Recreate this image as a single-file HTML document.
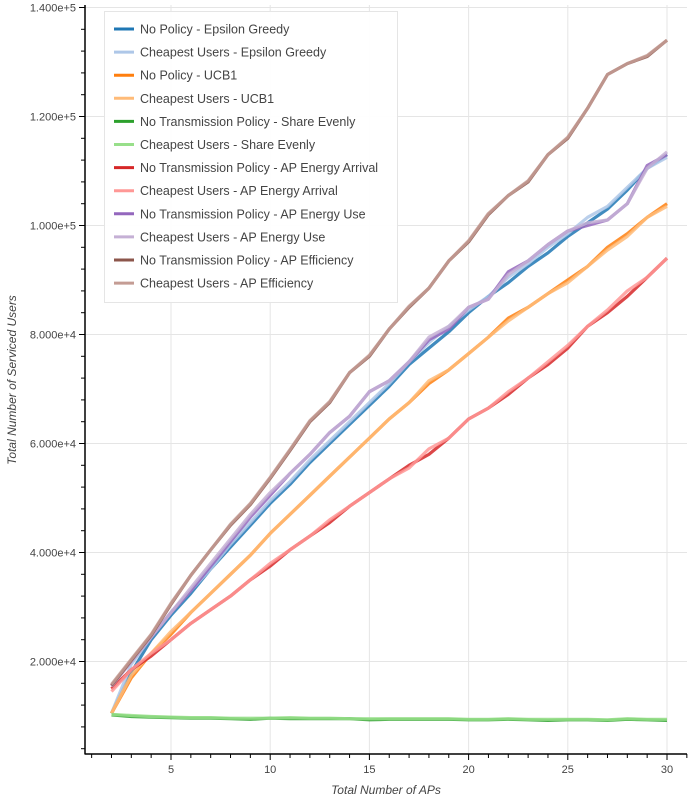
<!DOCTYPE html>
<html><head><meta charset="utf-8"><style>
html,body{margin:0;padding:0;background:#fff;}
svg{display:block;font-family:"Liberation Sans",sans-serif;}
</style></head><body>
<svg id="chart" width="700" height="800">
<g id="grid"></g>
<g id="series"></g>
<g id="axes"></g>
<g id="legend"></g>
<text x="386" y="794" text-anchor="middle" font-size="12" font-style="italic" fill="#444">Total Number of APs</text>
<text transform="translate(16,380) rotate(-90)" text-anchor="middle" font-size="12" font-style="italic" fill="#444">Total Number of Serviced Users</text>
</svg>
<script>
const xs=[2,3,4,5,6,7,8,9,10,11,12,13,14,15,16,17,18,19,20,21,22,23,24,25,26,27,28,29,30];
const epsNo=[10.5,18,24,28.5,32.5,37,41,45,49,52.5,56.5,60,63.5,67,70.5,74.5,77.5,80.5,84,87,89.5,92.5,95,98,100.5,103,106.5,110.5,113];
const epsCheap=[10.5,19.5,24.5,29,33,37,41.5,45.5,49.5,53,57,60.5,64,67.5,71,75,78.5,81.5,84.5,87,90.5,93,96,98.5,101.5,103.5,107,110.5,112.5];
const ucbNo=[10.5,17,21.5,25,29,32.5,36,39.5,43.5,47,50.5,54,57.5,61,64.5,67.5,71,73.5,76.5,79.5,83,85,87.5,90,92.5,96,98.5,101.5,104];
const ucbCheap=[10.5,17.5,21.5,25.5,29,32.5,36,39.5,43.5,47,50.5,54,57.5,61,64.5,67.5,71.5,73.5,76.5,79.5,82.5,85,87.5,89.5,92.5,95.5,98,101.5,103.5];
const shareNo=[10.2,9.9,9.8,9.7,9.6,9.6,9.5,9.4,9.6,9.5,9.5,9.5,9.5,9.3,9.4,9.4,9.4,9.4,9.3,9.3,9.4,9.3,9.2,9.3,9.3,9.2,9.4,9.3,9.2];
const shareCheap=[10.3,10.1,9.9,9.8,9.7,9.7,9.6,9.6,9.6,9.7,9.6,9.6,9.5,9.5,9.5,9.5,9.5,9.5,9.4,9.4,9.5,9.4,9.4,9.4,9.4,9.3,9.5,9.4,9.4];
const arrNo=[15,18.5,21,24,27,29.5,32,35,37.5,40.5,43,45.5,48.5,51,53.5,56,58,61,64.5,66.5,69,72,74.5,77.5,81.5,84,87,90.5,94];
const arrCheap=[14.5,18.5,21.5,24,27,29.5,32,35,38,40.5,43,46,48.5,51,53.5,55.5,59,61,64.5,66.5,69.5,72,75,78,81.5,84.5,88,90.5,94];
const useNo=[15.5,20,24.5,29,33,37.5,42,46.5,50.5,54.5,58,62,65,69.5,71.5,75,79,81,85,86.5,91.5,93.5,96.5,99,100,101,104,111,113];
const useCheap=[15.5,20,24.5,29,33.5,38,42.5,47,51,54.5,58,62,65,69.5,71.5,75,79.5,81.5,85,86.5,91,93.5,96.5,99,100.5,101,104,110.5,113.5];
const effNo=[15.6,20.2,24.8,30.5,35.8,40.5,45,48.8,53.6,58.7,64,67.5,73,76,81,85,88.5,93.5,97,102,105.5,108,113,116,121.5,127.7,129.7,131,134];
const effCheap=[15.8,20.4,25,30.7,35.8,40.5,45.2,49,53.8,58.9,64.2,67.7,73,76.2,81,85.2,88.5,93.5,97.2,102.2,105.5,108.2,113,116.2,121.5,127.7,129.7,131.2,134];
const names=["No Policy - Epsilon Greedy","Cheapest Users - Epsilon Greedy","No Policy - UCB1","Cheapest Users - UCB1","No Transmission Policy - Share Evenly","Cheapest Users - Share Evenly","No Transmission Policy - AP Energy Arrival","Cheapest Users - AP Energy Arrival","No Transmission Policy - AP Energy Use","Cheapest Users - AP Energy Use","No Transmission Policy - AP Efficiency","Cheapest Users - AP Efficiency"];
const colors=["#1f77b4","#aec7e8","#ff7f0e","#ffbb78","#2ca02c","#98df8a","#d62728","#ff9896","#9467bd","#c5b0d5","#8c564b","#c49c94"];
const data=[epsNo,epsCheap,ucbNo,ucbCheap,shareNo,shareCheap,arrNo,arrCheap,useNo,useCheap,effNo,effCheap];
const xTicks=[5,10,15,20,25,30];
const yTicks=[20000,40000,60000,80000,100000,120000,140000];
const yTickLabels=["2.000e+4","4.000e+4","6.000e+4","8.000e+4","1.000e+5","1.200e+5","1.400e+5"];

const NS="http://www.w3.org/2000/svg";
const X0=85,X1=687,Y0=754,Y1=5;
function sx(v){return 71.8+v*19.84;}
function sy(v){return 770.5-v*0.00545;} // v in users
function mk(tag,attrs,parent){const e=document.createElementNS(NS,tag);for(const k in attrs)e.setAttribute(k,attrs[k]);parent.appendChild(e);return e;}
const grid=document.getElementById('grid'),axes=document.getElementById('axes'),ser=document.getElementById('series'),leg=document.getElementById('legend');
xTicks.forEach(t=>{const l=mk('line',{x1:sx(t),x2:sx(t),y1:Y1,y2:Y0,stroke:'#e5e5e5'},grid);

});
yTicks.forEach(t=>{const l=mk('line',{x1:X0,x2:X1,y1:sy(t),y2:sy(t),stroke:'#e5e5e5'},grid);

});
data.forEach((arr,i)=>{
 const pts=arr.map((v,j)=>sx(xs[j]).toFixed(1)+','+sy(v*1000).toFixed(1)).join(' ');
 const p=mk('polyline',{points:pts,fill:'none',stroke:colors[i],'stroke-width':3.2,'stroke-opacity':0.85,'stroke-linejoin':'round'},ser);
 
 
});
mk('line',{x1:X0,x2:X0,y1:Y1,y2:Y0+0.5,stroke:'#000','stroke-width':1.5},axes);
mk('line',{x1:X0,x2:X1,y1:Y0,y2:Y0,stroke:'#000','stroke-width':1.5},axes);
for(let v=1;v<=31;v++){const x=sx(v);if(x<X0||x>X1)continue;const major=v%5===0;
 mk('line',{x1:x,x2:x,y1:Y0,y2:Y0+(major?6:4),stroke:'#000'},axes);}
xTicks.forEach(t=>{const tx=mk('text',{x:sx(t),y:Y0+19,'text-anchor':'middle','font-size':11,fill:'#444'},axes);tx.textContent=t;

});
for(let v=4000;v<=140000;v+=4000){const y=sy(v);if(y>Y0)continue;const major=v%20000===0;
 mk('line',{x1:X0-(major?6:4),x2:X0,y1:y,y2:y,stroke:'#000'},axes);}
yTicks.forEach((t,i)=>{const tx=mk('text',{x:X0-9,y:sy(t)+4,'text-anchor':'end','font-size':11,fill:'#444'},axes);tx.textContent=yTickLabels[i];

});
const box=mk('rect',{x:104.5,y:11.5,width:293,height:291,fill:'#fff','fill-opacity':0.95,stroke:'#e5e5e5'},leg);


names.forEach((n,i)=>{const y=29+i*23.1;
 const g=mk('g',{},leg);
 
 
 mk('line',{x1:114,x2:134,y1:y,y2:y,stroke:colors[i],'stroke-width':3},g);
 const t=mk('text',{x:140,y:y+4.5,'font-size':12.5,fill:'#444'},g);t.textContent=n;});
</script>
</body></html>
